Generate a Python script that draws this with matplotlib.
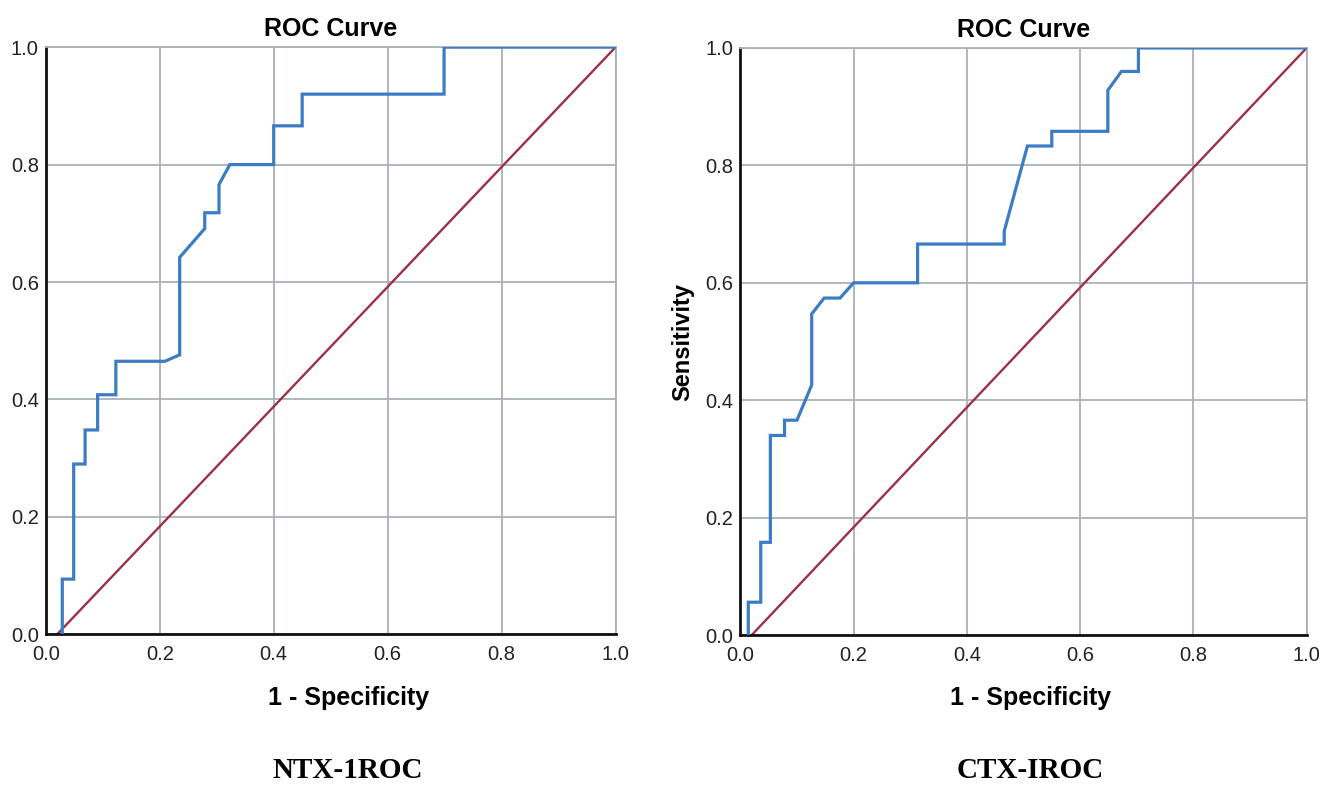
import numpy as np
import matplotlib.pyplot as plt

# --- ROC data (1 - specificity, sensitivity) ---
ntx_fpr = [0.029, 0.029, 0.049, 0.049, 0.069, 0.069, 0.091, 0.091, 0.123, 0.123,
           0.209, 0.235, 0.235, 0.279, 0.279, 0.304, 0.304, 0.323, 0.400, 0.400,
           0.450, 0.450, 0.699, 0.699, 1.000]
ntx_tpr = [0.000, 0.094, 0.094, 0.290, 0.290, 0.348, 0.348, 0.408, 0.408, 0.465,
           0.465, 0.476, 0.642, 0.691, 0.718, 0.718, 0.766, 0.800, 0.800, 0.866,
           0.866, 0.920, 0.920, 1.000, 1.000]

ctx_fpr = [0.014, 0.014, 0.036, 0.036, 0.053, 0.053, 0.078, 0.078, 0.100, 0.126,
           0.126, 0.148, 0.176, 0.200, 0.313, 0.313, 0.466, 0.466, 0.507, 0.550,
           0.550, 0.649, 0.649, 0.673, 0.703, 0.703, 1.000]
ctx_tpr = [0.000, 0.056, 0.056, 0.158, 0.158, 0.340, 0.340, 0.366, 0.366, 0.426,
           0.547, 0.574, 0.574, 0.600, 0.600, 0.666, 0.666, 0.688, 0.833, 0.833,
           0.858, 0.858, 0.928, 0.960, 0.960, 1.000, 1.000]

ref_x = [0.02, 1.0]
ref_y = [0.0, 1.0]

ticks = [0.0, 0.2, 0.4, 0.6, 0.8, 1.0]
tick_labels = ["0.0", "0.2", "0.4", "0.6", "0.8", "1.0"]

BLUE = "#3b7cc4"
RED = "#9c2f49"
GRID = "#a9b1ba"

plt.rcParams['font.family'] = ['Liberation Sans', 'DejaVu Sans']

fig = plt.figure(figsize=(13.19, 7.86), dpi=100)

panels = [
    # axes rect, fpr, tpr, ylabel, caption, caption x
    ([0.0347, 0.193, 0.432, 0.747], ntx_fpr, ntx_tpr, None, "NTX-1ROC", 0.264),
    ([0.5613, 0.192, 0.4293, 0.747], ctx_fpr, ctx_tpr, "Sensitivity", "CTX-IROC", 0.781),
]

for rect, fpr, tpr, ylab, caption, cx in panels:
    ax = fig.add_axes(rect)
    ax.plot(fpr, tpr, color=BLUE, lw=2.3, zorder=3, solid_joinstyle='miter')
    ax.plot(ref_x, ref_y, color=RED, lw=1.7, zorder=2)

    ax.set_xlim(0, 1)
    ax.set_ylim(0, 1)
    ax.set_xticks(ticks)
    ax.set_yticks(ticks)
    ax.set_xticklabels(tick_labels)
    ax.set_yticklabels(tick_labels)
    ax.tick_params(length=0, labelsize=14.5, colors="#222222")
    ax.tick_params(axis='x', pad=8)
    ax.tick_params(axis='y', pad=5)
    ax.grid(True, color=GRID, lw=1.3)
    ax.set_axisbelow(True)

    for s in ['top', 'right']:
        ax.spines[s].set_color(GRID)
        ax.spines[s].set_linewidth(1.3)
    for s in ['left', 'bottom']:
        ax.spines[s].set_color("#111111")
        ax.spines[s].set_linewidth(2.0)

    ax.set_title("ROC Curve", fontsize=18, fontweight='bold', pad=8)
    if ylab:
        ax.set_ylabel(ylab, fontsize=17, fontweight='bold', labelpad=8)

    fig.text(cx, 1 - 698 / 786, "1 - Specificity", fontsize=18, fontweight='bold',
             ha='center', va='center')
    fig.text(cx, 1 - 771 / 786, caption, fontsize=21, fontweight='bold',
             family=['Liberation Serif', 'DejaVu Serif'], ha='center', va='center')

fig.savefig("out.png", dpi=100)
